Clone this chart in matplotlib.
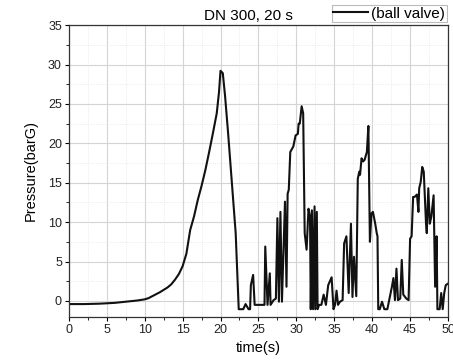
import numpy as np
import matplotlib
matplotlib.use('Agg')
import matplotlib.pyplot as plt
from matplotlib.ticker import MultipleLocator

plt.rcParams.update({
    'font.family': ['Liberation Sans', 'DejaVu Sans'],
    'font.size': 9,
})

# pressure trace (time in s, pressure in barG)
time_s = [0, 2, 4, 5, 6, 7, 8, 9, 10, 10.5, 11, 11.5, 12, 12.5, 13, 13.5, 14, 14.5,
          15, 15.5, 16, 16.5, 17, 17.5, 18, 18.5, 19, 19.5, 19.8, 20.0, 20.3, 20.6,
          21.0, 21.5, 22.0, 22.4,
          23.0, 23.3, 23.7, 23.9, 24.0, 24.3, 24.5, 25.8, 25.9, 26.2, 26.5, 26.6,
          27.0, 27.3, 27.5, 27.7, 27.9, 28.1, 28.5, 28.7, 28.85, 29.0, 29.2, 29.6,
          29.9, 30.2, 30.3, 30.45, 30.7, 30.9, 31.1, 31.35, 31.6, 31.8, 31.9, 32.05,
          32.2, 32.4, 32.5, 32.7, 32.8, 33.0, 33.3, 33.6, 33.9, 34.2, 34.65, 34.9,
          35.1, 35.3, 35.5, 35.75, 36.1, 36.3, 36.6, 36.9, 37.2, 37.4, 37.6, 37.9,
          38.1, 38.3, 38.4, 38.6, 38.8, 39.0, 39.3, 39.5, 39.7, 39.9, 40.1, 40.4,
          40.6, 40.7, 40.8, 41.0, 41.3, 41.6, 42.0, 42.6, 42.8, 43.0, 43.2, 43.4,
          43.7, 43.9, 44.1, 44.5, 44.8, 45.0, 45.2, 45.4, 45.6, 45.9, 46.1, 46.2,
          46.4, 46.6, 46.8, 47.1, 47.2, 47.4, 47.6, 47.8, 48.1, 48.3, 48.5, 48.6,
          48.9, 49.1, 49.3, 49.5, 49.7, 50.0]
pressure = [-0.4, -0.4, -0.35, -0.3, -0.25, -0.15, -0.05, 0.05, 0.2, 0.35, 0.6, 0.85,
            1.1, 1.4, 1.7, 2.1, 2.7, 3.4, 4.4, 6.0, 9.0, 10.7, 12.8, 14.6, 16.6, 18.9,
            21.3, 23.8, 26.5, 29.2, 28.9, 26.0, 21.3, 15.0, 8.6, -1.05,
            -1.05, -0.4, -1.05, -1.05, 2.0, 3.3, -0.5, -0.5, 6.9, -0.5, 3.5, -0.5,
            0.1, 0.3, 10.5, -0.1, 11.3, -0.1, 12.6, 1.8, 13.6, 14.1, 18.9, 19.6,
            21.0, 21.2, 22.5, 22.5, 24.7, 23.8, 8.6, 6.5, 11.7, 10.7, -1.05, 11.5,
            -1.05, 12.0, -1.05, 11.3, -1.05, -0.5, -0.5, 0.8, -0.5, 2.0, 3.0, -1.05,
            -0.5, 1.3, -0.5, -0.1, 0.1, 7.3, 8.2, 1.0, 9.8, 0.5, 5.6, 0.6,
            15.5, 16.4, 16.0, 18.1, 17.7, 17.9, 18.9, 22.2, 7.5, 11.1, 11.3, 9.8,
            8.6, 8.2, -1.05, -1.05, -0.1, -1.05, -1.05, 1.8, 2.9, 0.1, 4.1, 0.1,
            0.3, 5.2, 0.8, 0.3, 0.1, 7.9, 8.2, 13.2, 13.2, 13.5, 11.3, 14.3,
            15.1, 17.0, 16.4, 9.8, 8.6, 14.3, 9.8, 10.7, 13.4, 1.8, 8.2, -1.05,
            -1.05, 1.0, -1.05, 1.0, 2.0, 2.2]

fig = plt.figure(figsize=(4.53, 3.64), dpi=100)
ax = fig.add_axes([0.152, 0.130, 0.837, 0.801])

ax.plot(time_s, pressure, color='#111111', linewidth=1.5, label='(ball valve)')

ax.set_xlim(0, 50)
ax.set_ylim(-2, 35)
ax.xaxis.set_major_locator(MultipleLocator(5))
ax.xaxis.set_minor_locator(MultipleLocator(2.5))
ax.yaxis.set_major_locator(MultipleLocator(5))
ax.yaxis.set_minor_locator(MultipleLocator(2.5))
ax.grid(which='major', color='#d4d4d4', linewidth=0.8)
ax.grid(which='minor', color='#e4e4e4', linewidth=0.6, linestyle=':')
ax.set_axisbelow(True)
ax.tick_params(which='major', direction='out', length=3, width=0.8, pad=2,
               labelsize=9, labelcolor='#222222')
ax.tick_params(which='minor', direction='out', length=2, width=0.6)
for sp in ax.spines.values():
    sp.set_color('#333333')
    sp.set_linewidth(0.9)

ax.set_xlabel('time(s)', fontsize=10.5, labelpad=4)
ax.set_ylabel('Pressure(barG)', fontsize=10.5, labelpad=7)

fig.text(0.549, 0.956, 'DN 300, 20 s', ha='center', va='center', fontsize=11)
leg = fig.legend(loc='upper right', bbox_to_anchor=(0.986, 0.986), fontsize=11,
                 frameon=True, fancybox=False, framealpha=1, edgecolor='#bbbbbb',
                 handlelength=2.3, handletextpad=0.2, borderpad=0.1,
                 borderaxespad=0.0)
leg.get_frame().set_linewidth(0.8)

fig.savefig('out.png', dpi=100)
